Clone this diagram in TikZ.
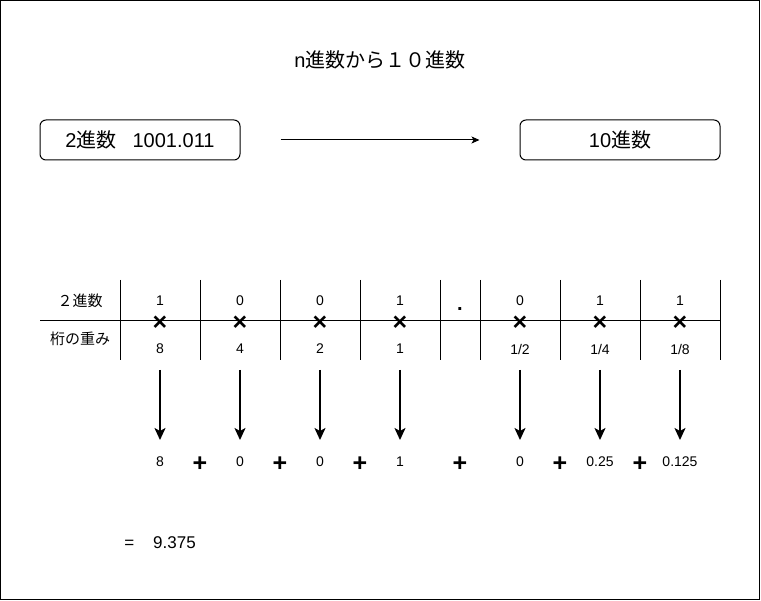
\documentclass[tikz,border=0pt]{standalone}
\usepackage{fontspec}
\setmainfont{Liberation Sans}
\newfontfamily\jp{Noto Sans CJK JP}
\usetikzlibrary{arrows.meta}
\begin{document}
\begin{tikzpicture}[x=1pt,y=-1pt,
  box/.style={draw, line width=1pt, rounded corners=6pt, minimum width=200pt, minimum height=40pt, inner sep=0pt, font=\fontsize{20}{24}\selectfont},
  cell/.style={inner sep=0pt, font=\fontsize{14}{16}\selectfont},
  jcell/.style={inner sep=0pt, font=\fontsize{15}{17}\selectfont\jp},
  mult/.style={inner sep=0pt, font=\fontsize{25}{25}\selectfont\bfseries},
  plus/.style={inner sep=0pt, font=\fontsize{25}{25}\selectfont\bfseries},
  grid/.style={line width=1pt},
  dn/.style={line width=1.8pt, -{Stealth[length=12pt,width=11pt,inset=3pt]}},
  conn/.style={line width=1pt, -{Stealth[length=8pt,width=7pt,inset=2pt]}}
]
\useasboundingbox (0,0) rectangle (761,601);
\draw[line width=1pt] (0.5,0.5) rectangle (759.5,599.5);

% title
\node[inner sep=0pt, font=\fontsize{20}{24}\selectfont] (title) at (380,60) {n{\jp 進数から１０進数}};

% boxes
\node[box] (bin) at (140,140) {2{\jp 進数}\hspace{16pt}1001.011};
\node[box] (dec) at (620,140) {10{\jp 進数}};
\draw[conn, shorten <=40pt, shorten >=40pt] (bin) -- (dec);

% table
\draw[grid] (40,320.5) -- (720,320.5);
\foreach \x in {120,200,280,360,440,480,560,640,720}
  \draw[grid] (\x,280) -- (\x,360);

\node[jcell] (lbin) at (80,301) {２進数};
\node[jcell] (lwt) at (80,339) {桁の重み};

\foreach \x/\d/\w/\n in {160/1/8/a, 240/0/4/b, 320/0/2/c, 400/1/1/d, 520/0/1\slash 2/e, 600/1/1\slash 4/f, 680/1/1\slash 8/g}{
  \node[cell] (d\n) at (\x,301) {\d};
  \node[mult] (m\n) at (\x,323) {×};
  \node[cell] (w\n) at (\x,349) {\w};
  \coordinate (s\n) at (\x,370);
  \coordinate (e\n) at (\x,440);
  \draw[dn] (s\n) -- (e\n);
}
\node[inner sep=0pt, anchor=base, font=\fontsize{20}{20}\selectfont\bfseries] (dot) at (460,311) {.};

% sums
\foreach \x/\t/\n in {160/8/a, 240/0/b, 320/0/c, 400/1/d, 520/0/e, 600/0.25/f, 680/0.125/g}
  \node[cell] (v\n) at (\x,462) {\t};
\foreach \x/\n in {200/a, 280/b, 360/c, 460/d, 560/e, 640/f}
  \node[plus] (p\n) at (\x,464) {+};

\node[inner sep=0pt, font=\fontsize{17}{20}\selectfont] (res) at (160,543) {=\hspace{19pt}9.375};
\end{tikzpicture}
\end{document}
